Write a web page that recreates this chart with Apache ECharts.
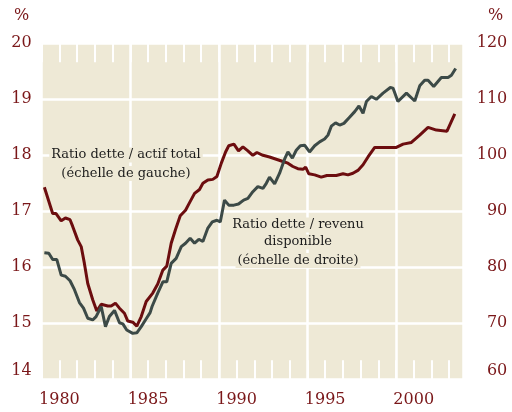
<!DOCTYPE html>
<html>
<head>
<meta charset="utf-8">
<script src="https://cdn.jsdelivr.net/npm/echarts@6/dist/echarts.min.js"></script>
<style>
  html, body { margin: 0; padding: 0; background: #fff; }
  #chart { width: 512px; height: 412px; }
</style>
</head>
<body>
<div id="chart"></div>
<script>
// ratio dette / actif total (échelle de gauche, %)
var actifYears = [1979.15, 1979.62, 1979.81, 1980.10, 1980.34, 1980.60, 1980.75, 1981.03, 1981.23, 1981.41,
    1981.60, 1981.88, 1982.11, 1982.36, 1982.73, 1982.92, 1983.16, 1983.39, 1983.67, 1983.86,
    1984.14, 1984.37, 1984.62, 1984.90, 1985.27, 1985.55, 1985.84, 1986.06, 1986.31, 1986.55,
    1986.82, 1987.12, 1987.34, 1987.63, 1987.91, 1988.10, 1988.38, 1988.66, 1988.89, 1989.14,
    1989.38, 1989.56, 1989.85, 1990.11, 1990.36, 1990.64, 1990.92, 1991.15, 1991.49, 1991.86,
    1992.24, 1992.62, 1992.90, 1993.18, 1993.46, 1993.75, 1993.90, 1994.08, 1994.41, 1994.78,
    1995.10, 1995.63, 1996.01, 1996.29, 1996.57, 1996.85, 1997.14, 1997.42, 1997.80, 1998.36,
    1999.02, 1999.40, 1999.87, 2000.34, 2000.81, 2001.28, 2001.88, 2002.32];
var actifValues = [17.43, 16.96, 16.96, 16.83, 16.88, 16.85, 16.73, 16.49, 16.37, 16.07,
    15.71, 15.42, 15.22, 15.34, 15.31, 15.31, 15.36, 15.27, 15.18, 15.04,
    15.02, 14.95, 15.12, 15.39, 15.54, 15.70, 15.95, 16.02, 16.43, 16.67,
    16.92, 17.02, 17.15, 17.32, 17.39, 17.50, 17.56, 17.57, 17.62, 17.86,
    18.06, 18.17, 18.20, 18.08, 18.15, 18.08, 18.00, 18.05, 18.00, 17.97,
    17.93, 17.89, 17.86, 17.80, 17.76, 17.75, 17.79, 17.67, 17.65, 17.61,
    17.64, 17.64, 17.67, 17.65, 17.68, 17.73, 17.83, 17.97, 18.14, 18.14,
    18.14, 18.20, 18.23, 18.36, 18.50, 18.45, 18.43, 18.74];

// ratio dette / revenu disponible (échelle de droite, %)
var revenuYears = [1979.15, 1979.40, 1979.62, 1979.85, 1980.10, 1980.34, 1980.60, 1980.85, 1981.13, 1981.36,
    1981.60, 1981.88, 1982.07, 1982.36, 1982.60, 1982.82, 1983.11, 1983.39, 1983.58, 1983.80,
    1984.14, 1984.37, 1984.62, 1984.90, 1985.12, 1985.23, 1985.55, 1985.84, 1986.06, 1986.31,
    1986.59, 1986.88, 1987.12, 1987.38, 1987.63, 1987.87, 1988.10, 1988.38, 1988.63, 1988.89,
    1989.08, 1989.32, 1989.56, 1989.85, 1990.11, 1990.40, 1990.64, 1990.92, 1991.20, 1991.49,
    1991.68, 1991.86, 1992.15, 1992.43, 1992.71, 1992.90, 1993.15, 1993.37, 1993.60, 1993.84,
    1994.12, 1994.41, 1994.69, 1994.97, 1995.16, 1995.35, 1995.59, 1995.82, 1996.06, 1996.38,
    1996.67, 1996.91, 1997.14, 1997.33, 1997.61, 1997.89, 1998.27, 1998.68, 1998.83, 1999.11,
    1999.59, 2000.06, 2000.34, 2000.62, 2000.81, 2001.13, 2001.56, 2001.94, 2002.13, 2002.37];
var revenuValues = [82.6, 82.5, 81.4, 81.4, 78.6, 78.4, 77.6, 76.0, 73.7, 72.7,
    70.9, 70.6, 71.2, 73.0, 69.4, 71.2, 72.3, 70.1, 69.9, 68.8,
    68.2, 68.3, 69.4, 70.8, 71.9, 73.0, 75.4, 77.4, 77.4, 80.7,
    81.6, 83.7, 84.3, 85.2, 84.3, 85.0, 84.6, 87.0, 88.1, 88.4,
    88.1, 92.0, 91.1, 91.1, 91.3, 92.0, 92.3, 93.5, 94.4, 94.1,
    95.0, 96.1, 94.9, 96.8, 99.3, 100.6, 99.5, 100.9, 101.7, 101.8,
    100.6, 101.7, 102.4, 102.9, 103.6, 105.2, 105.8, 105.4, 105.7, 106.8,
    107.8, 108.8, 107.5, 109.6, 110.5, 110.0, 111.1, 112.1, 112.0, 109.6,
    111.1, 109.7, 112.4, 113.4, 113.4, 112.3, 113.9, 113.9, 114.3, 115.5];

// axes
var yearLabels = [1980, 1985, 1990, 1995, 2000];
var leftTicks = [14, 15, 16, 17, 18, 19, 20];
var rightTicks = [60, 70, 80, 90, 100, 110, 120];

var RED = '#6c0d0f';
var GREY = '#3c4a47';
var LABEL = '#7a1719';
var BEIGE = '#eee9d6';
var FONT = 'DejaVu Serif';

var xMin = 1979, xMax = 2002.8;

// one text line with a beige box behind it (hides the white grid)
function note(text, x, y) {
    return {
        type: 'text', x: x, y: y, z: 10,
        style: {
            text: text, fill: '#1c1c1c', font: '13px "' + FONT + '"',
            align: 'center', verticalAlign: 'middle', lineHeight: 15,
            backgroundColor: BEIGE, padding: [0, 2]
        }
    };
}

var chart = echarts.init(document.getElementById('chart'));

var tickStyle = { show: true, inside: true, length: 19, lineStyle: { color: '#fff', width: 2 } };

chart.setOption({
    animation: false,
    grid: {
        left: 41.7, right: 48.7, top: 43.3, bottom: 32.7,
        show: true, backgroundColor: BEIGE, borderWidth: 0,
        outerBoundsMode: 'none'
    },
    graphic: [
        { type: 'text', left: 14, top: 8, style: { text: '%', fill: LABEL, font: '16px "' + FONT + '"' } },
        { type: 'text', left: 488, top: 8, style: { text: '%', fill: LABEL, font: '16px "' + FONT + '"' } },
        note('Ratio dette / actif total', 126, 155),
        note('(échelle de gauche)', 126, 173.5),
        note('Ratio dette / revenu', 298, 225),
        note('disponible', 298, 242),
        note('(échelle de droite)', 298, 260.5)
    ],
    xAxis: [
        {
            type: 'value', position: 'bottom', min: xMin, max: xMax, interval: 1,
            axisLine: { show: false },
            axisTick: tickStyle,
            splitLine: { show: false },
            axisLabel: {
                color: LABEL, fontFamily: FONT, fontSize: 16, margin: 13,
                formatter: function (v) {
                    var y = Math.round(v);
                    return (Math.abs(v - y) < 1e-6 && yearLabels.indexOf(y) >= 0) ? String(y) : '';
                }
            }
        },
        {
            type: 'value', position: 'top', min: xMin, max: xMax, interval: 1,
            axisLine: { show: false },
            axisTick: tickStyle,
            splitLine: { show: false },
            axisLabel: { show: false }
        },
        {
            // lignes verticales blanches : 1984, 1989, 1994, 1999
            type: 'value', position: 'bottom', min: xMin - 1984, max: xMax - 1984, interval: 5,
            axisLine: { show: false }, axisTick: { show: false }, axisLabel: { show: false },
            splitLine: { show: true, lineStyle: { color: '#fff', width: 2.5 } }
        }
    ],
    yAxis: [
        {
            type: 'value', position: 'left',
            min: leftTicks[0], max: leftTicks[leftTicks.length - 1], interval: 1,
            axisLine: { show: false }, axisTick: { show: false },
            splitLine: { show: true, lineStyle: { color: '#fff', width: 2.5 } },
            axisLabel: {
                color: LABEL, fontFamily: FONT, fontSize: 16, margin: 10,
                verticalAlignMinLabel: 'bottom'
            }
        },
        {
            type: 'value', position: 'right',
            min: rightTicks[0], max: rightTicks[rightTicks.length - 1], interval: 10,
            axisLine: { show: false }, axisTick: { show: false },
            splitLine: { show: false },
            axisLabel: {
                color: LABEL, fontFamily: FONT, fontSize: 16, margin: 44, align: 'right',
                verticalAlignMinLabel: 'bottom'
            }
        }
    ],
    series: [
        {
            name: 'Ratio dette / actif total',
            type: 'line', xAxisIndex: 0, yAxisIndex: 0,
            showSymbol: false, symbol: 'none',
            lineStyle: { color: RED, width: 3 },
            data: actifYears.map(function (y, i) { return [y, actifValues[i]]; })
        },
        {
            name: 'Ratio dette / revenu disponible',
            type: 'line', xAxisIndex: 0, yAxisIndex: 1,
            showSymbol: false, symbol: 'none',
            lineStyle: { color: GREY, width: 3 },
            data: revenuYears.map(function (y, i) { return [y, revenuValues[i]]; })
        }
    ]
});
</script>
</body>
</html>
